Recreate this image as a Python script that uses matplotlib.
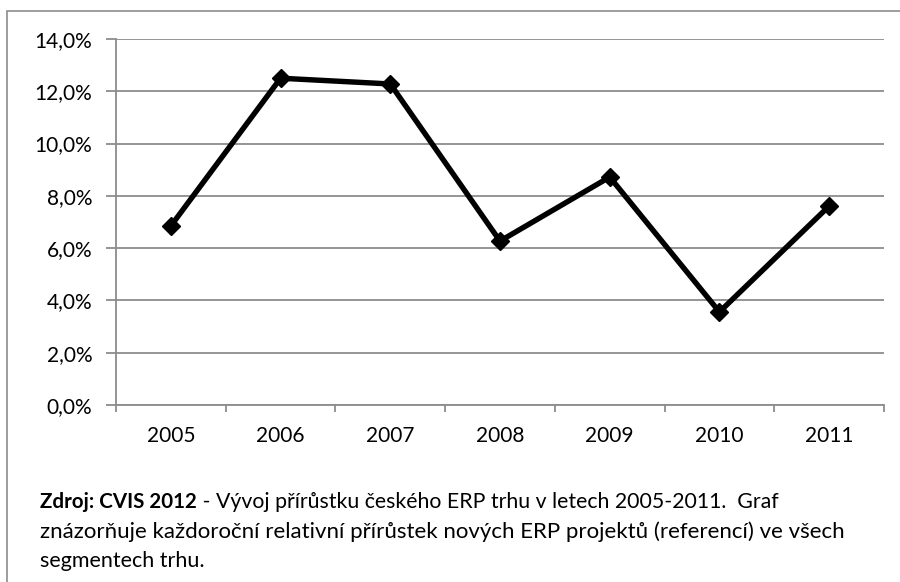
import numpy as np
import matplotlib
matplotlib.use("Agg")
from matplotlib import pyplot as plt
from matplotlib.patches import Rectangle

# data
years = ['2005', '2006', '2007', '2008', '2009', '2010', '2011']
growth = [6.85, 12.5, 12.28, 6.27, 8.72, 3.56, 7.61]  # percent
yticks = [0, 2, 4, 6, 8, 10, 12, 14]

caption_bold = 'Zdroj: CVIS 2012'
caption_rest = ' - Vývoj přírůstku českého ERP trhu v letech 2005-2011.  Graf'
caption_l2 = 'znázorňuje každoroční relativní přírůstek nových ERP projektů (referencí) ve všech'
caption_l3 = 'segmentech trhu.'

plt.rcParams['font.family'] = ['Lato', 'DejaVu Sans']
grid_col = '#8c8c8c'
W, H = 900, 582

fig = plt.figure(figsize=(9, 5.82), dpi=100)
fig.patch.set_facecolor('white')

# outer frame (only top and left visible in the crop)
fig.patches.append(Rectangle((6.5/W, -0.05), 1.1, 1 - 11/H + 0.05,
                             transform=fig.transFigure, fill=False,
                             edgecolor=grid_col, lw=1.2))

ax = fig.add_axes([116/W, 1 - 405/H, (884 - 116)/W, (405 - 39)/H])
x = np.arange(len(years))
ax.plot(x, growth, color='black', lw=3.9, marker='D', markersize=9.5,
        solid_joinstyle='miter', zorder=3)

ax.set_xlim(-0.5, len(years) - 0.5)
ax.set_ylim(0, 14)
ax.set_yticks(yticks)
ax.set_yticklabels(['{:.1f}%'.format(v).replace('.', ',') for v in yticks])
ax.yaxis.grid(True, color=grid_col, lw=1.3)
ax.set_axisbelow(True)

ax.set_xticks(x)
ax.set_xticklabels(years)
ax.set_xticks(np.arange(-0.5, len(years)), minor=True)
ax.tick_params(axis='x', which='major', length=0, pad=15, labelsize=15)
ax.tick_params(axis='x', which='minor', length=5, width=1.3, color=grid_col)
ax.tick_params(axis='y', length=7, width=1.3, color=grid_col, pad=10, labelsize=15)

for s in ['top', 'right']:
    ax.spines[s].set_visible(False)
for s in ['left', 'bottom']:
    ax.spines[s].set_color(grid_col)
    ax.spines[s].set_linewidth(1.3)

# caption
base_y = [508, 538, 567]
t1 = fig.text(40/W, 1 - base_y[0]/H, caption_bold, fontsize=14.8,
              fontweight='bold', va='baseline')
fig.canvas.draw()
bb = t1.get_window_extent()
fig.text(bb.x1/W, 1 - base_y[0]/H, caption_rest, fontsize=15.3, va='baseline')
fig.text(40/W, 1 - base_y[1]/H, caption_l2, fontsize=16.0, va='baseline')
fig.text(40/W, 1 - base_y[2]/H, caption_l3, fontsize=15.5, va='baseline')

fig.savefig('out.png', dpi=100)
